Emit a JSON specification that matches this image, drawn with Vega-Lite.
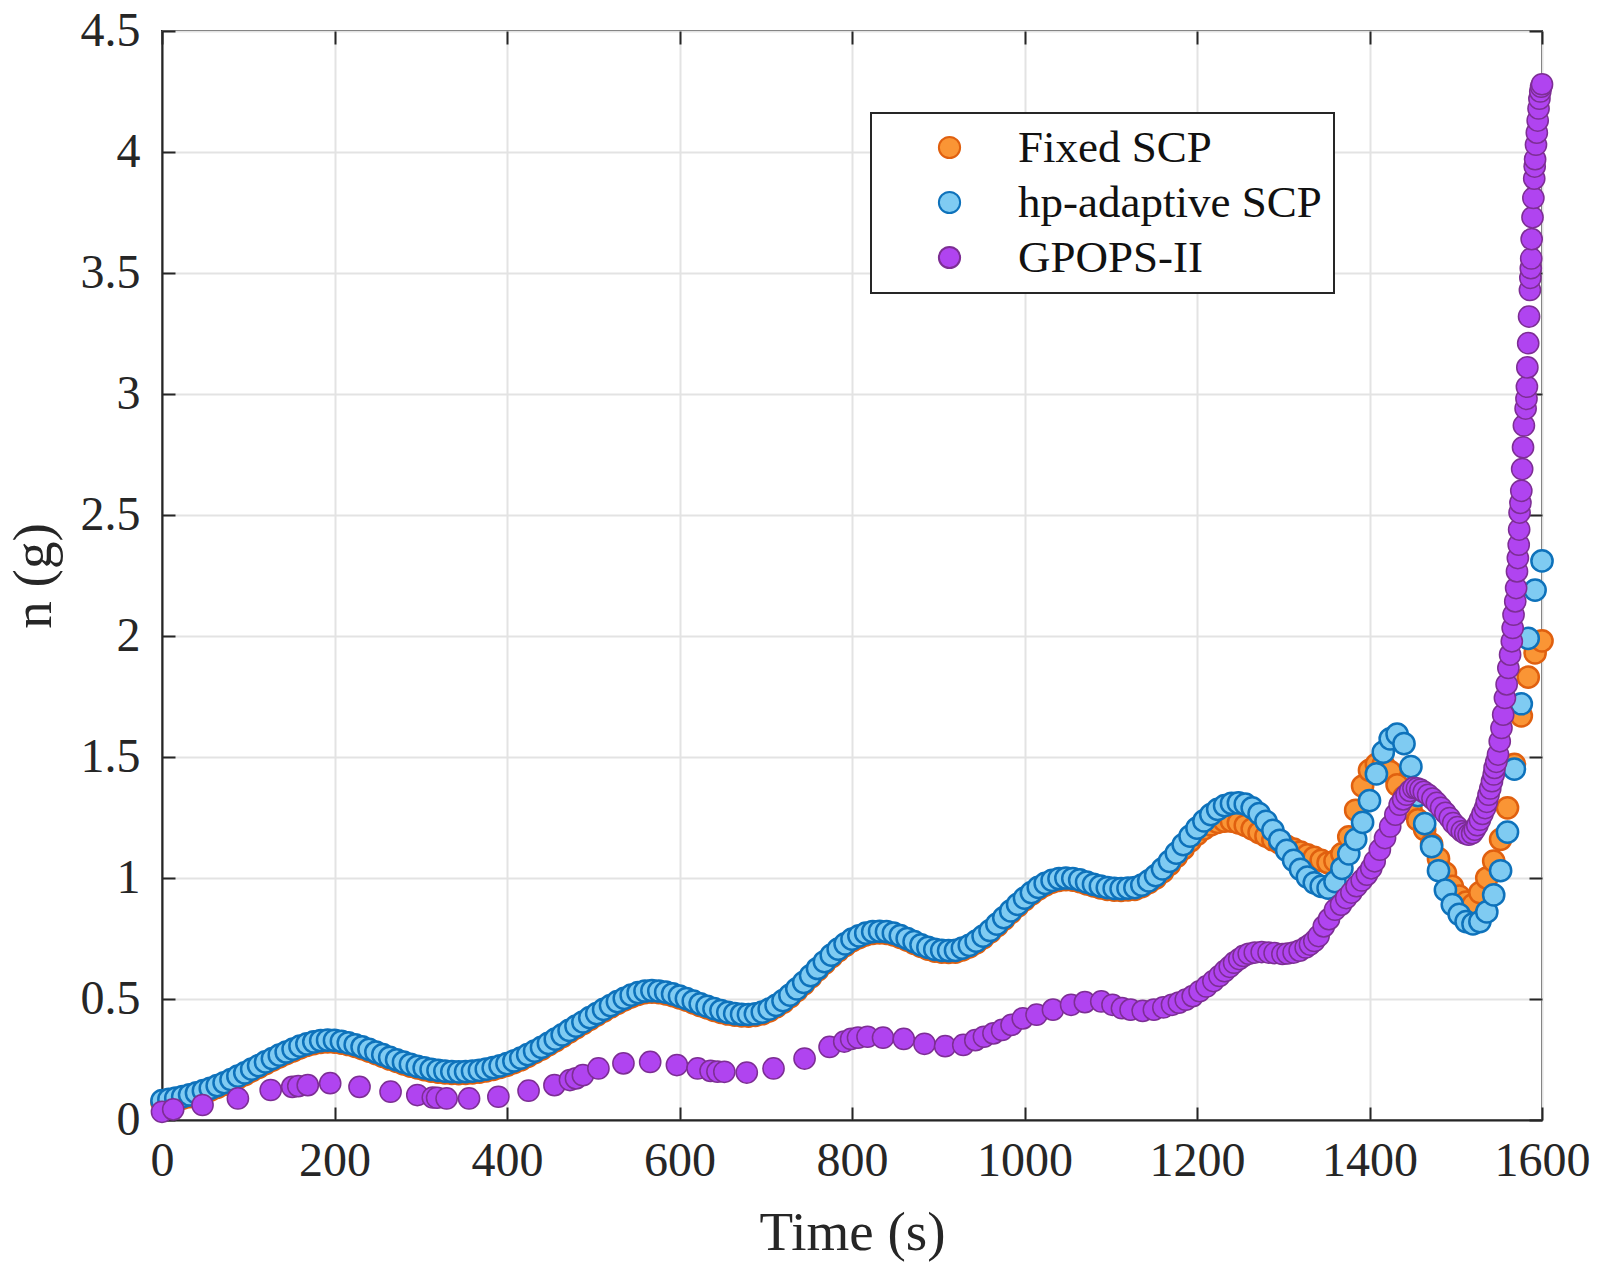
{
  "$schema": "https://vega.github.io/schema/vega-lite/v6.json",
  "width": 1380,
  "height": 1089,
  "autosize": "none",
  "padding": {"left": 162, "top": 31, "right": 62, "bottom": 155},
  "background": "white",
  "config": {
    "font": "Liberation Serif",
    "view": {"stroke": "#262626", "strokeWidth": 2},
    "axis": {
      "domainColor": "#262626",
      "domainWidth": 2,
      "tickColor": "#262626",
      "tickWidth": 2,
      "tickSize": -13,
      "labelFont": "Liberation Serif",
      "labelFontSize": 48,
      "labelColor": "#262626",
      "labelFlush": false,
      "labelOverlap": false,
      "labelExpr": "datum.value + ''",
      "titleFont": "Liberation Serif",
      "titleFontSize": 55,
      "titleFontWeight": "normal",
      "titleColor": "#262626",
      "gridColor": "#E3E3E3",
      "gridWidth": 2
    },
    "legend": {
      "orient": "none",
      "legendX": 709,
      "legendY": 82,
      "labelFont": "Liberation Serif",
      "labelFontSize": 45,
      "labelColor": "#111111",
      "labelLimit": 0,
      "labelOffset": 46,
      "symbolOffset": 44,
      "symbolStrokeWidth": 2,
      "padding": 12,
      "rowPadding": 9,
      "strokeColor": "#262626",
      "strokeWidth": 2,
      "fillColor": "white"
    }
  },
  "resolve": {"axis": {"x": "independent", "y": "independent"}},
  "layer": [
    {
      "data": {"values": [
        {"t":0,"n":0.073},{"t":8,"n":0.078},{"t":16,"n":0.083},{"t":24,"n":0.09},{"t":32,"n":0.097},{"t":40,"n":0.105},{"t":48,"n":0.114},{"t":56,"n":0.124},{"t":64,"n":0.135},{"t":72,"n":0.147},{"t":80,"n":0.16},{"t":88,"n":0.174},{"t":96,"n":0.188},{"t":104,"n":0.203},{"t":112,"n":0.218},{"t":120,"n":0.233},{"t":128,"n":0.247},{"t":136,"n":0.261},{"t":144,"n":0.274},{"t":152,"n":0.286},{"t":160,"n":0.298},{"t":168,"n":0.308},{"t":176,"n":0.316},{"t":184,"n":0.321},{"t":192,"n":0.323},{"t":200,"n":0.322},{"t":208,"n":0.318},{"t":216,"n":0.312},{"t":224,"n":0.304},{"t":232,"n":0.295},{"t":240,"n":0.285},{"t":248,"n":0.274},{"t":256,"n":0.263},{"t":264,"n":0.252},{"t":272,"n":0.242},{"t":280,"n":0.232},{"t":288,"n":0.223},{"t":296,"n":0.215},{"t":304,"n":0.208},{"t":312,"n":0.202},{"t":320,"n":0.198},{"t":328,"n":0.195},{"t":336,"n":0.193},{"t":344,"n":0.192},{"t":352,"n":0.193},{"t":360,"n":0.195},{"t":368,"n":0.198},{"t":376,"n":0.203},{"t":384,"n":0.209},{"t":392,"n":0.217},{"t":400,"n":0.226},{"t":408,"n":0.237},{"t":416,"n":0.249},{"t":424,"n":0.263},{"t":432,"n":0.278},{"t":440,"n":0.293},{"t":448,"n":0.31},{"t":456,"n":0.327},{"t":464,"n":0.345},{"t":472,"n":0.363},{"t":480,"n":0.381},{"t":488,"n":0.398},{"t":496,"n":0.416},{"t":504,"n":0.433},{"t":512,"n":0.45},{"t":520,"n":0.466},{"t":528,"n":0.482},{"t":536,"n":0.496},{"t":544,"n":0.509},{"t":552,"n":0.519},{"t":560,"n":0.526},{"t":568,"n":0.528},{"t":576,"n":0.526},{"t":584,"n":0.521},{"t":592,"n":0.514},{"t":600,"n":0.505},{"t":608,"n":0.495},{"t":616,"n":0.484},{"t":624,"n":0.473},{"t":632,"n":0.463},{"t":640,"n":0.453},{"t":648,"n":0.445},{"t":656,"n":0.438},{"t":664,"n":0.433},{"t":672,"n":0.43},{"t":680,"n":0.429},{"t":688,"n":0.432},{"t":696,"n":0.439},{"t":704,"n":0.451},{"t":712,"n":0.467},{"t":720,"n":0.486},{"t":728,"n":0.509},{"t":736,"n":0.535},{"t":744,"n":0.562},{"t":752,"n":0.59},{"t":760,"n":0.619},{"t":768,"n":0.647},{"t":776,"n":0.674},{"t":784,"n":0.699},{"t":792,"n":0.721},{"t":800,"n":0.74},{"t":808,"n":0.754},{"t":816,"n":0.765},{"t":824,"n":0.771},{"t":832,"n":0.773},{"t":840,"n":0.771},{"t":848,"n":0.765},{"t":856,"n":0.755},{"t":864,"n":0.743},{"t":872,"n":0.73},{"t":880,"n":0.717},{"t":888,"n":0.706},{"t":896,"n":0.698},{"t":904,"n":0.694},{"t":912,"n":0.693},{"t":920,"n":0.694},{"t":928,"n":0.703},{"t":936,"n":0.715},{"t":944,"n":0.732},{"t":952,"n":0.753},{"t":960,"n":0.776},{"t":968,"n":0.802},{"t":976,"n":0.829},{"t":984,"n":0.857},{"t":992,"n":0.884},{"t":1000,"n":0.91},{"t":1008,"n":0.933},{"t":1016,"n":0.954},{"t":1024,"n":0.971},{"t":1032,"n":0.983},{"t":1040,"n":0.99},{"t":1048,"n":0.993},{"t":1056,"n":0.991},{"t":1064,"n":0.985},{"t":1072,"n":0.976},{"t":1080,"n":0.967},{"t":1088,"n":0.959},{"t":1096,"n":0.953},{"t":1104,"n":0.95},{"t":1112,"n":0.949},{"t":1120,"n":0.951},{"t":1128,"n":0.953},{"t":1136,"n":0.964},{"t":1144,"n":0.981},{"t":1152,"n":1.0},{"t":1160,"n":1.025},{"t":1168,"n":1.055},{"t":1176,"n":1.088},{"t":1184,"n":1.12},{"t":1192,"n":1.152},{"t":1200,"n":1.18},{"t":1208,"n":1.203},{"t":1216,"n":1.22},{"t":1224,"n":1.23},{"t":1232,"n":1.235},{"t":1240,"n":1.235},{"t":1248,"n":1.228},{"t":1256,"n":1.217},{"t":1264,"n":1.203},{"t":1272,"n":1.188},{"t":1280,"n":1.173},{"t":1288,"n":1.158},{"t":1296,"n":1.144},{"t":1304,"n":1.131},{"t":1312,"n":1.119},{"t":1320,"n":1.107},{"t":1328,"n":1.096},{"t":1336,"n":1.085},{"t":1344,"n":1.073},{"t":1352,"n":1.063},{"t":1360,"n":1.07},{"t":1368,"n":1.1},{"t":1376,"n":1.17},{"t":1384,"n":1.28},{"t":1392,"n":1.38},{"t":1400,"n":1.445},{"t":1408,"n":1.47},{"t":1416,"n":1.47},{"t":1424,"n":1.44},{"t":1432,"n":1.385},{"t":1440,"n":1.335},{"t":1448,"n":1.285},{"t":1456,"n":1.24},{"t":1464,"n":1.2},{"t":1472,"n":1.14},{"t":1480,"n":1.08},{"t":1488,"n":1.02},{"t":1496,"n":0.965},{"t":1504,"n":0.925},{"t":1512,"n":0.9},{"t":1520,"n":0.89},{"t":1528,"n":0.94},{"t":1536,"n":1.0},{"t":1544,"n":1.07},{"t":1552,"n":1.16},{"t":1560,"n":1.29},{"t":1568,"n":1.47},{"t":1576,"n":1.67},{"t":1584,"n":1.83},{"t":1592,"n":1.93},{"t":1600,"n":1.98}
      ]},
      "mark": {"type": "point", "shape": "circle", "filled": true, "opacity": 1, "strokeWidth": 2.5},
      "encoding": {
        "x": {
          "field": "t", "type": "quantitative", "title": "Time (s)",
          "scale": {"domain": [0, 1600], "nice": false, "zero": false},
          "axis": {"orient": "bottom", "values": [0, 200, 400, 600, 800, 1000, 1200, 1400, 1600], "grid": true, "labelPadding": 30, "titlePadding": 21}
        },
        "y": {
          "field": "n", "type": "quantitative", "title": "n (g)",
          "scale": {"domain": [0, 4.5], "nice": false, "zero": false},
          "axis": {"orient": "left", "values": [0, 0.5, 1, 1.5, 2, 2.5, 3, 3.5, 4, 4.5], "grid": true, "labelPadding": 35, "titlePadding": 18}
        },
        "color": {"datum": "Fixed SCP", "type": "nominal", "scale": {"domain": ["Fixed SCP", "hp-adaptive SCP", "GPOPS-II"], "range": ["#FA9535", "#7FCBF2", "#B044F0"]}, "legend": {"title": null}},
        "stroke": {"datum": "Fixed SCP", "type": "nominal", "scale": {"domain": ["Fixed SCP", "hp-adaptive SCP", "GPOPS-II"], "range": ["#E0600F", "#0E72BB", "#7D2E94"]}, "legend": {"title": null}},
        "size": {"datum": "Fixed SCP", "type": "nominal", "scale": {"domain": ["Fixed SCP", "hp-adaptive SCP", "GPOPS-II"], "range": [450, 450, 290]}, "legend": {"title": null}}
      }
    },
    {
      "data": {"values": [
        {"t":0,"n":0.08},{"t":8,"n":0.085},{"t":16,"n":0.09},{"t":24,"n":0.097},{"t":32,"n":0.104},{"t":40,"n":0.112},{"t":48,"n":0.121},{"t":56,"n":0.131},{"t":64,"n":0.142},{"t":72,"n":0.154},{"t":80,"n":0.167},{"t":88,"n":0.181},{"t":96,"n":0.195},{"t":104,"n":0.21},{"t":112,"n":0.225},{"t":120,"n":0.24},{"t":128,"n":0.254},{"t":136,"n":0.268},{"t":144,"n":0.281},{"t":152,"n":0.293},{"t":160,"n":0.305},{"t":168,"n":0.315},{"t":176,"n":0.323},{"t":184,"n":0.328},{"t":192,"n":0.33},{"t":200,"n":0.329},{"t":208,"n":0.325},{"t":216,"n":0.319},{"t":224,"n":0.311},{"t":232,"n":0.302},{"t":240,"n":0.292},{"t":248,"n":0.281},{"t":256,"n":0.27},{"t":264,"n":0.259},{"t":272,"n":0.249},{"t":280,"n":0.239},{"t":288,"n":0.23},{"t":296,"n":0.222},{"t":304,"n":0.215},{"t":312,"n":0.209},{"t":320,"n":0.205},{"t":328,"n":0.202},{"t":336,"n":0.2},{"t":344,"n":0.199},{"t":352,"n":0.2},{"t":360,"n":0.202},{"t":368,"n":0.205},{"t":376,"n":0.21},{"t":384,"n":0.216},{"t":392,"n":0.224},{"t":400,"n":0.233},{"t":408,"n":0.244},{"t":416,"n":0.256},{"t":424,"n":0.27},{"t":432,"n":0.285},{"t":440,"n":0.3},{"t":448,"n":0.317},{"t":456,"n":0.334},{"t":464,"n":0.352},{"t":472,"n":0.37},{"t":480,"n":0.388},{"t":488,"n":0.405},{"t":496,"n":0.423},{"t":504,"n":0.44},{"t":512,"n":0.457},{"t":520,"n":0.473},{"t":528,"n":0.489},{"t":536,"n":0.503},{"t":544,"n":0.516},{"t":552,"n":0.526},{"t":560,"n":0.533},{"t":568,"n":0.535},{"t":576,"n":0.533},{"t":584,"n":0.528},{"t":592,"n":0.521},{"t":600,"n":0.512},{"t":608,"n":0.502},{"t":616,"n":0.491},{"t":624,"n":0.48},{"t":632,"n":0.47},{"t":640,"n":0.46},{"t":648,"n":0.452},{"t":656,"n":0.445},{"t":664,"n":0.44},{"t":672,"n":0.437},{"t":680,"n":0.436},{"t":688,"n":0.439},{"t":696,"n":0.446},{"t":704,"n":0.458},{"t":712,"n":0.474},{"t":720,"n":0.493},{"t":728,"n":0.516},{"t":736,"n":0.542},{"t":744,"n":0.569},{"t":752,"n":0.597},{"t":760,"n":0.626},{"t":768,"n":0.654},{"t":776,"n":0.681},{"t":784,"n":0.706},{"t":792,"n":0.728},{"t":800,"n":0.747},{"t":808,"n":0.761},{"t":816,"n":0.772},{"t":824,"n":0.778},{"t":832,"n":0.78},{"t":840,"n":0.778},{"t":848,"n":0.772},{"t":856,"n":0.762},{"t":864,"n":0.75},{"t":872,"n":0.737},{"t":880,"n":0.724},{"t":888,"n":0.713},{"t":896,"n":0.705},{"t":904,"n":0.701},{"t":912,"n":0.7},{"t":920,"n":0.701},{"t":928,"n":0.71},{"t":936,"n":0.722},{"t":944,"n":0.739},{"t":952,"n":0.76},{"t":960,"n":0.783},{"t":968,"n":0.809},{"t":976,"n":0.836},{"t":984,"n":0.864},{"t":992,"n":0.891},{"t":1000,"n":0.917},{"t":1008,"n":0.94},{"t":1016,"n":0.961},{"t":1024,"n":0.978},{"t":1032,"n":0.99},{"t":1040,"n":0.997},{"t":1048,"n":1.0},{"t":1056,"n":0.998},{"t":1064,"n":0.992},{"t":1072,"n":0.983},{"t":1080,"n":0.974},{"t":1088,"n":0.966},{"t":1096,"n":0.96},{"t":1104,"n":0.957},{"t":1112,"n":0.956},{"t":1120,"n":0.958},{"t":1128,"n":0.96},{"t":1136,"n":0.971},{"t":1144,"n":0.988},{"t":1152,"n":1.01},{"t":1160,"n":1.038},{"t":1168,"n":1.069},{"t":1176,"n":1.103},{"t":1184,"n":1.138},{"t":1192,"n":1.173},{"t":1200,"n":1.206},{"t":1208,"n":1.236},{"t":1216,"n":1.262},{"t":1224,"n":1.284},{"t":1232,"n":1.299},{"t":1240,"n":1.308},{"t":1248,"n":1.31},{"t":1256,"n":1.305},{"t":1264,"n":1.29},{"t":1272,"n":1.266},{"t":1280,"n":1.234},{"t":1288,"n":1.197},{"t":1296,"n":1.156},{"t":1304,"n":1.114},{"t":1312,"n":1.073},{"t":1320,"n":1.036},{"t":1328,"n":1.004},{"t":1336,"n":0.98},{"t":1344,"n":0.965},{"t":1352,"n":0.958},{"t":1360,"n":0.985},{"t":1368,"n":1.04},{"t":1376,"n":1.1},{"t":1384,"n":1.16},{"t":1392,"n":1.23},{"t":1400,"n":1.32},{"t":1408,"n":1.43},{"t":1416,"n":1.52},{"t":1424,"n":1.575},{"t":1432,"n":1.595},{"t":1440,"n":1.555},{"t":1448,"n":1.46},{"t":1456,"n":1.34},{"t":1464,"n":1.225},{"t":1472,"n":1.13},{"t":1480,"n":1.03},{"t":1488,"n":0.95},{"t":1496,"n":0.89},{"t":1504,"n":0.85},{"t":1512,"n":0.82},{"t":1520,"n":0.81},{"t":1528,"n":0.82},{"t":1536,"n":0.86},{"t":1544,"n":0.93},{"t":1552,"n":1.03},{"t":1560,"n":1.19},{"t":1568,"n":1.45},{"t":1576,"n":1.72},{"t":1584,"n":1.99},{"t":1592,"n":2.19},{"t":1600,"n":2.31}
      ]},
      "mark": {"type": "point", "shape": "circle", "filled": true, "opacity": 1, "strokeWidth": 2.5},
      "encoding": {
        "x": {
          "field": "t", "type": "quantitative",
          "axis": {"orient": "top", "values": [0, 200, 400, 600, 800, 1000, 1200, 1400, 1600], "labels": false, "title": null, "grid": false, "domain": false}
        },
        "y": {
          "field": "n", "type": "quantitative",
          "axis": {"orient": "right", "values": [0, 0.5, 1, 1.5, 2, 2.5, 3, 3.5, 4, 4.5], "labels": false, "title": null, "grid": false, "domain": false}
        },
        "color": {"datum": "hp-adaptive SCP", "type": "nominal", "legend": {"title": null}},
        "stroke": {"datum": "hp-adaptive SCP", "type": "nominal", "legend": {"title": null}},
        "size": {"datum": "hp-adaptive SCP", "type": "nominal", "legend": {"title": null}}
      }
    },
    {
      "data": {"values": [
        {"t":0,"n":0.034},{"t":13,"n":0.044},{"t":47,"n":0.062},{"t":88,"n":0.089},{"t":126,"n":0.124},{"t":151,"n":0.137},{"t":158,"n":0.14},{"t":169,"n":0.144},{"t":195,"n":0.152},{"t":229,"n":0.137},{"t":265,"n":0.117},{"t":296,"n":0.103},{"t":314,"n":0.093},{"t":319,"n":0.092},{"t":330,"n":0.089},{"t":356,"n":0.089},{"t":390,"n":0.096},{"t":425,"n":0.121},{"t":455,"n":0.144},{"t":473,"n":0.165},{"t":480,"n":0.172},{"t":488,"n":0.185},{"t":506,"n":0.213},{"t":535,"n":0.234},{"t":566,"n":0.24},{"t":597,"n":0.227},{"t":621,"n":0.213},{"t":636,"n":0.203},{"t":644,"n":0.2},{"t":652,"n":0.199},{"t":678,"n":0.196},{"t":709,"n":0.213},{"t":745,"n":0.254},{"t":774,"n":0.302},{"t":791,"n":0.324},{"t":799,"n":0.335},{"t":807,"n":0.34},{"t":818,"n":0.344},{"t":836,"n":0.34},{"t":860,"n":0.335},{"t":884,"n":0.315},{"t":908,"n":0.305},{"t":929,"n":0.31},{"t":943,"n":0.33},{"t":953,"n":0.344},{"t":964,"n":0.358},{"t":974,"n":0.372},{"t":985,"n":0.393},{"t":998,"n":0.42},{"t":1014,"n":0.435},{"t":1033,"n":0.456},{"t":1054,"n":0.476},{"t":1070,"n":0.487},{"t":1089,"n":0.49},{"t":1102,"n":0.476},{"t":1113,"n":0.462},{"t":1123,"n":0.456},{"t":1137,"n":0.451},{"t":1150,"n":0.456},{"t":1161,"n":0.465},{"t":1171,"n":0.476},{"t":1179,"n":0.485},{"t":1187,"n":0.497},{"t":1195,"n":0.512},{"t":1203,"n":0.532},{"t":1211,"n":0.552},{"t":1219,"n":0.574},{"t":1226,"n":0.595},{"t":1232,"n":0.615},{"t":1238,"n":0.633},{"t":1243,"n":0.65},{"t":1249,"n":0.665},{"t":1254,"n":0.678},{"t":1260,"n":0.687},{"t":1267,"n":0.692},{"t":1275,"n":0.694},{"t":1283,"n":0.692},{"t":1290,"n":0.69},{"t":1299,"n":0.686},{"t":1305,"n":0.688},{"t":1312,"n":0.692},{"t":1319,"n":0.7},{"t":1326,"n":0.713},{"t":1331,"n":0.725},{"t":1336,"n":0.74},{"t":1341,"n":0.76},{"t":1347,"n":0.8},{"t":1353,"n":0.83},{"t":1360,"n":0.869},{"t":1367,"n":0.89},{"t":1373,"n":0.917},{"t":1379,"n":0.94},{"t":1385,"n":0.966},{"t":1391,"n":0.99},{"t":1397,"n":1.014},{"t":1402,"n":1.04},{"t":1406,"n":1.069},{"t":1412,"n":1.117},{"t":1418,"n":1.165},{"t":1424,"n":1.213},{"t":1430,"n":1.262},{"t":1435,"n":1.303},{"t":1439,"n":1.325},{"t":1443,"n":1.344},{"t":1447,"n":1.36},{"t":1451,"n":1.372},{"t":1455,"n":1.37},{"t":1459,"n":1.365},{"t":1463,"n":1.356},{"t":1468,"n":1.344},{"t":1473,"n":1.328},{"t":1478,"n":1.31},{"t":1483,"n":1.29},{"t":1488,"n":1.269},{"t":1493,"n":1.248},{"t":1497,"n":1.227},{"t":1502,"n":1.21},{"t":1507,"n":1.193},{"t":1511,"n":1.184},{"t":1515,"n":1.179},{"t":1519,"n":1.185},{"t":1522,"n":1.2},{"t":1525,"n":1.218},{"t":1528,"n":1.241},{"t":1531,"n":1.265},{"t":1534,"n":1.289},{"t":1536,"n":1.315},{"t":1538,"n":1.344},{"t":1540,"n":1.37},{"t":1542,"n":1.4},{"t":1544,"n":1.428},{"t":1545,"n":1.455},{"t":1547,"n":1.48},{"t":1549,"n":1.51},{"t":1551,"n":1.565},{"t":1553,"n":1.62},{"t":1555,"n":1.675},{"t":1557,"n":1.744},{"t":1559,"n":1.8},{"t":1561,"n":1.868},{"t":1563,"n":1.923},{"t":1565,"n":1.978},{"t":1566,"n":2.033},{"t":1567,"n":2.088},{"t":1569,"n":2.143},{"t":1570,"n":2.198},{"t":1571,"n":2.267},{"t":1572,"n":2.322},{"t":1573,"n":2.377},{"t":1573.5,"n":2.44},{"t":1574,"n":2.51},{"t":1575,"n":2.55},{"t":1576,"n":2.6},{"t":1577,"n":2.69},{"t":1578,"n":2.78},{"t":1579,"n":2.87},{"t":1581,"n":2.94},{"t":1582,"n":2.98},{"t":1582.5,"n":3.03},{"t":1583,"n":3.11},{"t":1584,"n":3.21},{"t":1585,"n":3.32},{"t":1586,"n":3.43},{"t":1586.5,"n":3.48},{"t":1587,"n":3.52},{"t":1587.5,"n":3.56},{"t":1588,"n":3.64},{"t":1589,"n":3.73},{"t":1590,"n":3.81},{"t":1591,"n":3.89},{"t":1591.5,"n":3.94},{"t":1592,"n":3.97},{"t":1593,"n":4.03},{"t":1594,"n":4.08},{"t":1595,"n":4.13},{"t":1596,"n":4.18},{"t":1597,"n":4.22},{"t":1598,"n":4.25},{"t":1599,"n":4.27},{"t":1600,"n":4.28}
      ]},
      "mark": {"type": "point", "shape": "circle", "filled": true, "opacity": 1, "strokeWidth": 1.5},
      "encoding": {
        "x": {"field": "t", "type": "quantitative", "axis": null},
        "y": {"field": "n", "type": "quantitative", "axis": null},
        "color": {"datum": "GPOPS-II", "type": "nominal", "legend": {"title": null}},
        "stroke": {"datum": "GPOPS-II", "type": "nominal", "legend": {"title": null}},
        "size": {"datum": "GPOPS-II", "type": "nominal", "legend": {"title": null}}
      }
    }
  ]
}
